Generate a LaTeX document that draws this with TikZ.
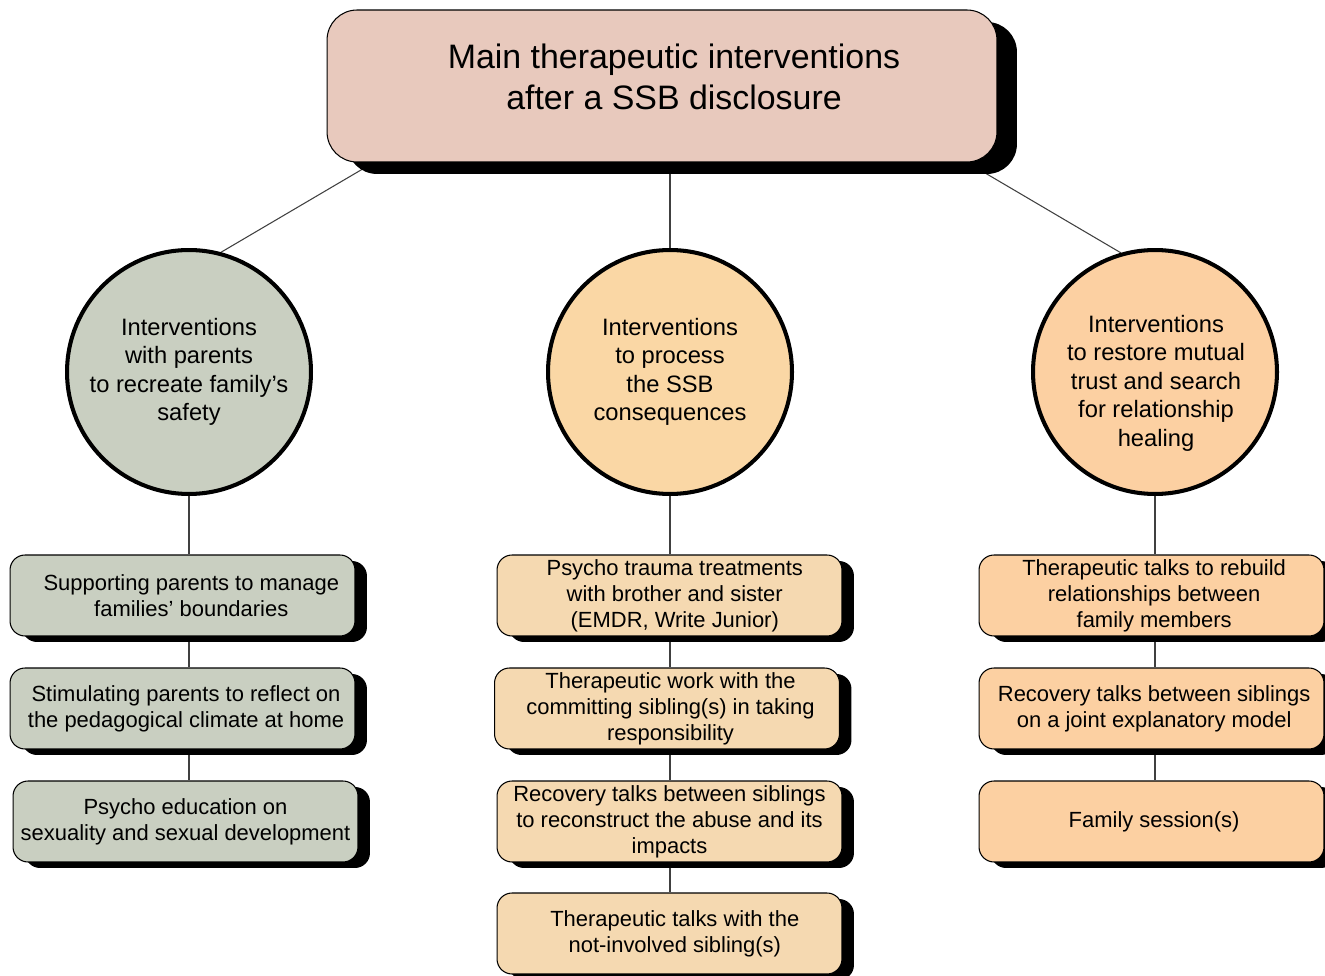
\documentclass[tikz,border=0pt]{standalone}
\usepackage{fontspec}
\setmainfont{Liberation Sans}
\usetikzlibrary{shadows,backgrounds}
\definecolor{topfill}{HTML}{E8C9BD}
\definecolor{grn}{HTML}{C9CFC1}
\definecolor{midc}{HTML}{FAD7A5}
\definecolor{midb}{HTML}{F5D9B1}
\definecolor{rgt}{HTML}{FCD0A2}
\pgfdeclarelayer{bottom}
\pgfsetlayers{bottom,background,main}
\begin{document}
\begin{tikzpicture}[x=0.02cm,y=-0.02cm,
  box/.style={draw=black, line width=0.6pt, rounded corners=0.3cm,
    minimum width=6.9cm, minimum height=1.62cm, align=center, inner sep=0pt,
    font=\fontsize{12.5}{14.7}\selectfont,
    drop shadow={shadow xshift=0.24cm, shadow yshift=-0.12cm, fill=black, opacity=1}},
  topbox/.style={draw=black, line width=0.6pt, rounded corners=0.6cm,
    minimum width=13.4cm, minimum height=3.04cm, inner sep=0pt, fill=topfill,
    drop shadow={shadow xshift=0.4cm, shadow yshift=-0.24cm, fill=black, opacity=1}},
  circ/.style={circle, draw=black, line width=2.3pt, minimum size=4.88cm,
    align=center, inner sep=0pt, font=\fontsize{13.5}{16.2}\selectfont},
  circtext/.style={align=center, inner sep=0pt, font=\fontsize{13.5}{16.2}\selectfont},
  conn/.style={draw=black!75, line width=0.6pt}]
\useasboundingbox (0,0) rectangle (1325,976);
\begin{pgfonlayer}{bottom}
  \fill[white] (0,0) rectangle (1325,976);
\end{pgfonlayer}

% top
\node[topbox] (top) at (662,86) {};
\node[font=\fontsize{19.3}{23.2}\selectfont, align=center] (toptext) at (674,77)
  {Main therapeutic interventions\\after a SSB disclosure};

% circles
\node[circ, fill=grn] (c1) at (189,372)
  {Interventions\\with parents\\to recreate family’s\\safety};
\node[circ, fill=midc] (c2) at (670,372)
  {Interventions\\to process\\the SSB\\consequences};
\node[circ, fill=rgt] (c3) at (1155,372) {};
\node[circtext] (c3t) at (1156,383)
  {Interventions\\to restore mutual\\trust and search\\for relationship\\healing};

% left boxes
\node[box, fill=grn] (L1) at (182.5,595.5) {\hspace*{10pt}Supporting parents to manage\\\hspace*{10pt}families’ boundaries};
\node[box, fill=grn] (L2) at (182.5,708.5) {\hspace*{4pt}Stimulating parents to reflect on\\\hspace*{4pt}the pedagogical climate at home};
\node[box, fill=grn] (L3) at (185.5,821.5) {Psycho education on\\sexuality and sexual development};

% middle boxes
\node[box, fill=midb] (M1) at (669.5,595.5) {\hspace*{6pt}Psycho trauma treatments\\\hspace*{6pt}with brother and sister\\\hspace*{6pt}(EMDR, Write Junior)};
\node[box, fill=midb] (M2) at (667,708.5) {\hspace*{4pt}Therapeutic work with the\\\hspace*{4pt}committing sibling(s) in taking\\\hspace*{4pt}responsibility};
\node[box, fill=midb] (M3) at (669.5,821.5) {Recovery talks between siblings\\to reconstruct the abuse and its\\impacts};
\node[box, fill=midb] (M4) at (669.5,933.5) {\hspace*{6pt}Therapeutic talks with the\\\hspace*{6pt}not-involved sibling(s)};

% right boxes
\node[box, fill=rgt] (R1) at (1151.5,595.5) {\hspace*{3pt}Therapeutic talks to rebuild\\\hspace*{3pt}relationships between\\\hspace*{3pt}family members};
\node[box, fill=rgt] (R2) at (1151.5,708.5) {\hspace*{3pt}Recovery talks between siblings\\\hspace*{3pt}on a joint explanatory model};
\node[box, fill=rgt] (R3) at (1151.5,821.5) {\hspace*{3pt}Family session(s)};

\coordinate (tl) at (395,150);
\coordinate (tr) at (946,150);

\begin{scope}[on background layer]
  \draw[conn] (c1.75) -- (tl);
  \draw[conn] (c2.north) -- (c2.north |- top.south);
  \draw[conn] (c3.106) -- (tr);
  \draw[conn] (c1.south) -- (c1.south |- L1.north);
  \draw[conn] (c1.south |- L1.south) -- (c1.south |- L2.north);
  \draw[conn] (c1.south |- L2.south) -- (c1.south |- L3.north);
  \draw[conn] (c2.south) -- (c2.south |- M1.north);
  \draw[conn] (c2.south |- M1.south) -- (c2.south |- M2.north);
  \draw[conn] (c2.south |- M2.south) -- (c2.south |- M3.north);
  \draw[conn] (c2.south |- M3.south) -- (c2.south |- M4.north);
  \draw[conn] (c3.south) -- (c3.south |- R1.north);
  \draw[conn] (c3.south |- R1.south) -- (c3.south |- R2.north);
  \draw[conn] (c3.south |- R2.south) -- (c3.south |- R3.north);
\end{scope}
\end{tikzpicture}
\end{document}
